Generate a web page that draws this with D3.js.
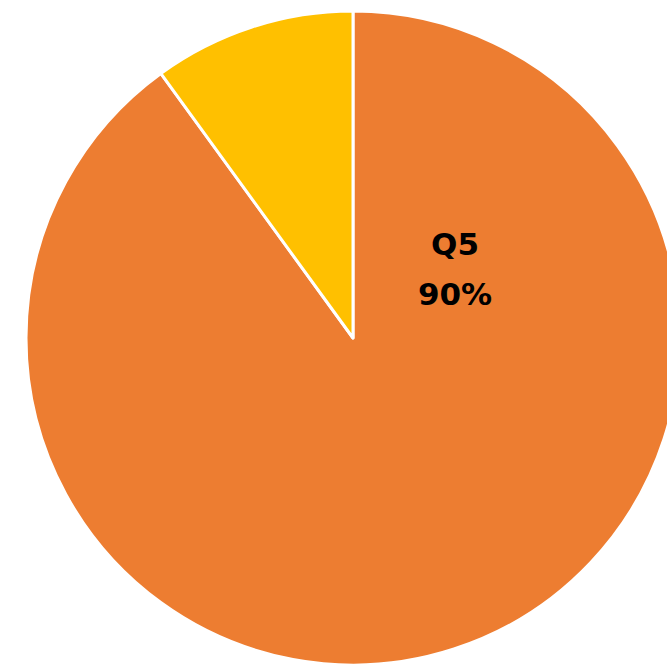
<!DOCTYPE html>
<html><head><meta charset="utf-8">
<script src="https://cdn.jsdelivr.net/npm/d3@7"></script>
<style>html,body{margin:0;padding:0;background:#fff;overflow:hidden}</style>
</head><body>
<svg id="c" width="667" height="664"></svg>
<script>
const categories = ["Q5", "Other"];
const values = [90, 10];
const colors = ["#ED7D31", "#FFC000"];
const labels = ["Q5", "90%"];

const svg = d3.select("#c");
const cx = 353, cy = 338, r = 327;
const pie = d3.pie().sort(null).value(d => d.v).startAngle(0).endAngle(2*Math.PI);
const data = pie(categories.map((c,i)=>({c, v: values[i]})));
const arc = d3.arc().innerRadius(0).outerRadius(r);
const g = svg.append("g").attr("transform", `translate(${cx},${cy})`);
g.selectAll("path").data(data).join("path")
  .attr("d", arc)
  .attr("fill", (d,i)=>colors[i])
  .attr("stroke", "#fff")
  .attr("stroke-width", 3)
  .attr("stroke-linejoin", "round");

const t = svg.append("text")
  .attr("text-anchor", "middle")
  .attr("font-family", "DejaVu Sans, sans-serif")
  .attr("font-weight", "bold")
  .attr("font-size", 31)
  .attr("fill", "#000");
t.append("tspan").attr("x", 455).attr("y", 255).text(labels[0]);
t.append("tspan").attr("x", 455).attr("y", 305).text(labels[1]);
</script>
</body></html>
